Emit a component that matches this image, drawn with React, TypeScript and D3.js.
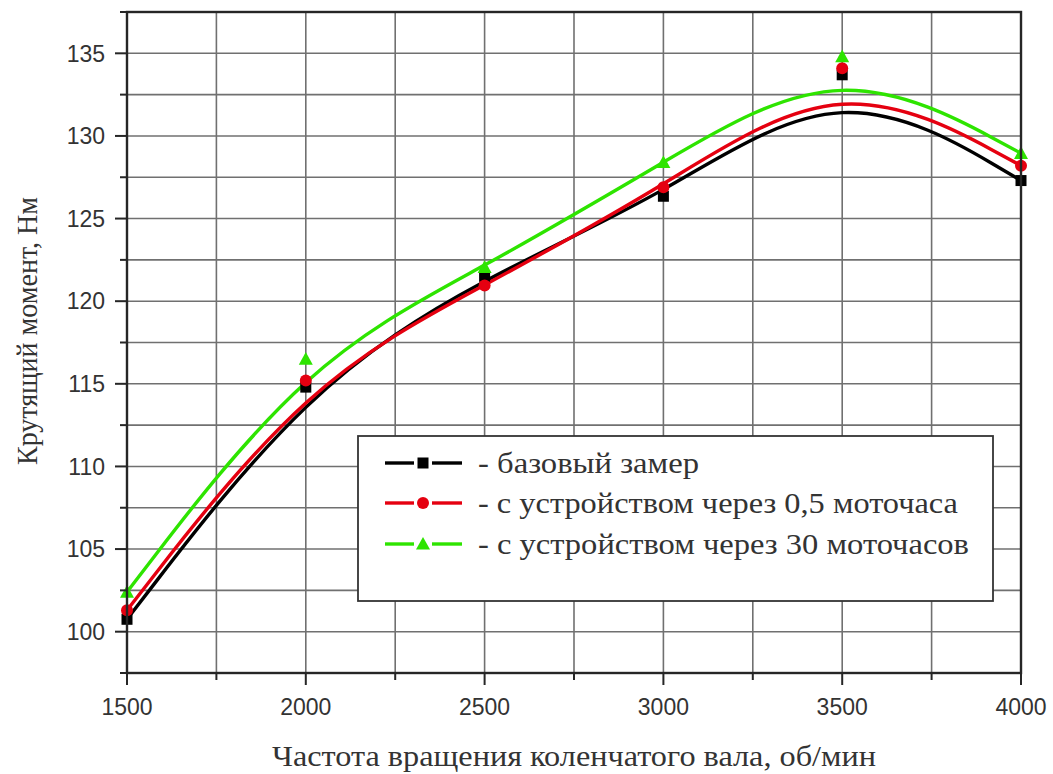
import React from "react";
import * as d3 from "d3";

const rpm = [1500, 2000, 2500, 3000, 3500, 4000];
const baseValues = [100.75, 114.8, 121.5, 126.35, 133.7, 127.3];
const halfHourValues = [101.3, 115.2, 120.95, 126.9, 134.1, 128.2];
const thirtyHourValues = [102.4, 116.5, 122.05, 128.4, 134.8, 128.95];

const xTicks = [1500, 2000, 2500, 3000, 3500, 4000];
const xMinor = [1750, 2250, 2750, 3250, 3750];
const yTicks = [100, 105, 110, 115, 120, 125, 130, 135];
const yMinor = [97.5, 102.5, 107.5, 112.5, 117.5, 122.5, 127.5, 132.5, 137.5];

const seriesNames = [
  "- базовый замер",
  "- с устройством через 0,5 моточаса",
  "- с устройством через 30 моточасов",
];
const seriesColors = ["#000000", "#e50010", "#2ee400"];
const markerTypes = ["square", "circle", "triangle"];
const legendTextWidths = [221, 480, 491];

const W = 1053;
const H = 774;
const L = 127, R = 1021, T = 12, B = 673;

function Marker({ type, x, y, color }: { type: string; x: number; y: number; color: string }) {
  if (type === "square") return <rect x={x - 5.5} y={y - 5.5} width={11} height={11} fill={color} />;
  if (type === "circle") return <circle cx={x} cy={y} r={6} fill={color} />;
  const s = 7;
  return <path d={`M${x},${y - s}L${x + s},${y + s * 0.8}L${x - s},${y + s * 0.8}Z`} fill={color} />;
}

export default function App() {
  const x = d3.scaleLinear().domain([1500, 4000]).range([L, R]);
  const y = d3.scaleLinear().domain([97.5, 137.5]).range([B, T]);
  const line = d3
    .line<number>()
    .x((_, i) => x(rpm[i]))
    .y((d) => y(d))
    .curve(d3.curveBasis);
  const points = [baseValues, halfHourValues, thirtyHourValues];
  const gridColor = "#707070";
  const axisColor = "#262626";
  const sans = "'Liberation Sans', Arial, sans-serif";
  const serif = "'Liberation Serif', 'Times New Roman', serif";
  const legendRows = [463, 503, 544];

  return (
    <svg width={W} height={H} style={{ position: "absolute", left: 0, top: 0, background: "#fff" }}>
      <rect width={W} height={H} fill="#fff" />
      {[...xTicks, ...xMinor].map((t) => (
        <line key={"gx" + t} x1={x(t)} x2={x(t)} y1={T} y2={B} stroke={gridColor} strokeWidth={1.6} />
      ))}
      {[...yTicks, ...yMinor].map((t) => (
        <line key={"gy" + t} x1={L} x2={R} y1={y(t)} y2={y(t)} stroke={gridColor} strokeWidth={1.6} />
      ))}
      {points.map((p, i) => (
        <path key={"c" + i} d={line(p) || ""} fill="none" stroke={seriesColors[i]} strokeWidth={3.4} />
      ))}
      {points.map((p, i) =>
        p.map((v, j) => <Marker key={`m${i}-${j}`} type={markerTypes[i]} x={x(rpm[j])} y={y(v)} color={seriesColors[i]} />)
      )}
      <rect x={L} y={T} width={R - L} height={B - T} fill="none" stroke={axisColor} strokeWidth={2.4} />
      {yTicks.map((t) => (
        <g key={"yt" + t}>
          <line x1={L - 12} x2={L} y1={y(t)} y2={y(t)} stroke={axisColor} strokeWidth={2} />
          <text x={L - 22} y={y(t)} dy="0.36em" textAnchor="end" fontFamily={sans} fontSize={23} fill="#333">
            {t}
          </text>
        </g>
      ))}
      {yMinor.map((t) => (
        <line key={"ym" + t} x1={L - 7} x2={L} y1={y(t)} y2={y(t)} stroke={axisColor} strokeWidth={2} />
      ))}
      {xTicks.map((t) => (
        <g key={"xt" + t}>
          <line x1={x(t)} x2={x(t)} y1={B} y2={B + 12} stroke={axisColor} strokeWidth={2} />
          <text x={x(t)} y={715} textAnchor="middle" fontFamily={sans} fontSize={23} fill="#333">
            {t}
          </text>
        </g>
      ))}
      {xMinor.map((t) => (
        <line key={"xm" + t} x1={x(t)} x2={x(t)} y1={B} y2={B + 7} stroke={axisColor} strokeWidth={2} />
      ))}
      <text
        x={574}
        y={766}
        textAnchor="middle"
        fontFamily={serif}
        fontSize={30}
        fill="#333"
        textLength={604}
        lengthAdjust="spacingAndGlyphs"
      >
        Частота вращения коленчатого вала, об/мин
      </text>
      <text
        transform={`translate(37, 331) rotate(-90)`}
        textAnchor="middle"
        fontFamily={serif}
        fontSize={30}
        fill="#333"
        textLength={268}
        lengthAdjust="spacingAndGlyphs"
      >
        Крутящий момент, Нм
      </text>
      <rect x={358} y={436} width={635} height={165} fill="#fff" stroke="#333" strokeWidth={1.8} />
      {seriesNames.map((name, i) => (
        <g key={"lg" + i}>
          <line x1={385} x2={414} y1={legendRows[i]} y2={legendRows[i]} stroke={seriesColors[i]} strokeWidth={3.4} />
          <line x1={432} x2={462} y1={legendRows[i]} y2={legendRows[i]} stroke={seriesColors[i]} strokeWidth={3.4} />
          <Marker type={markerTypes[i]} x={423} y={legendRows[i]} color={seriesColors[i]} />
          <text
            x={478}
            y={legendRows[i]}
            dy="0.33em"
            fontFamily={serif}
            fontSize={30}
            fill="#333"
            textLength={legendTextWidths[i]}
            lengthAdjust="spacingAndGlyphs"
          >
            {name}
          </text>
        </g>
      ))}
    </svg>
  );
}
